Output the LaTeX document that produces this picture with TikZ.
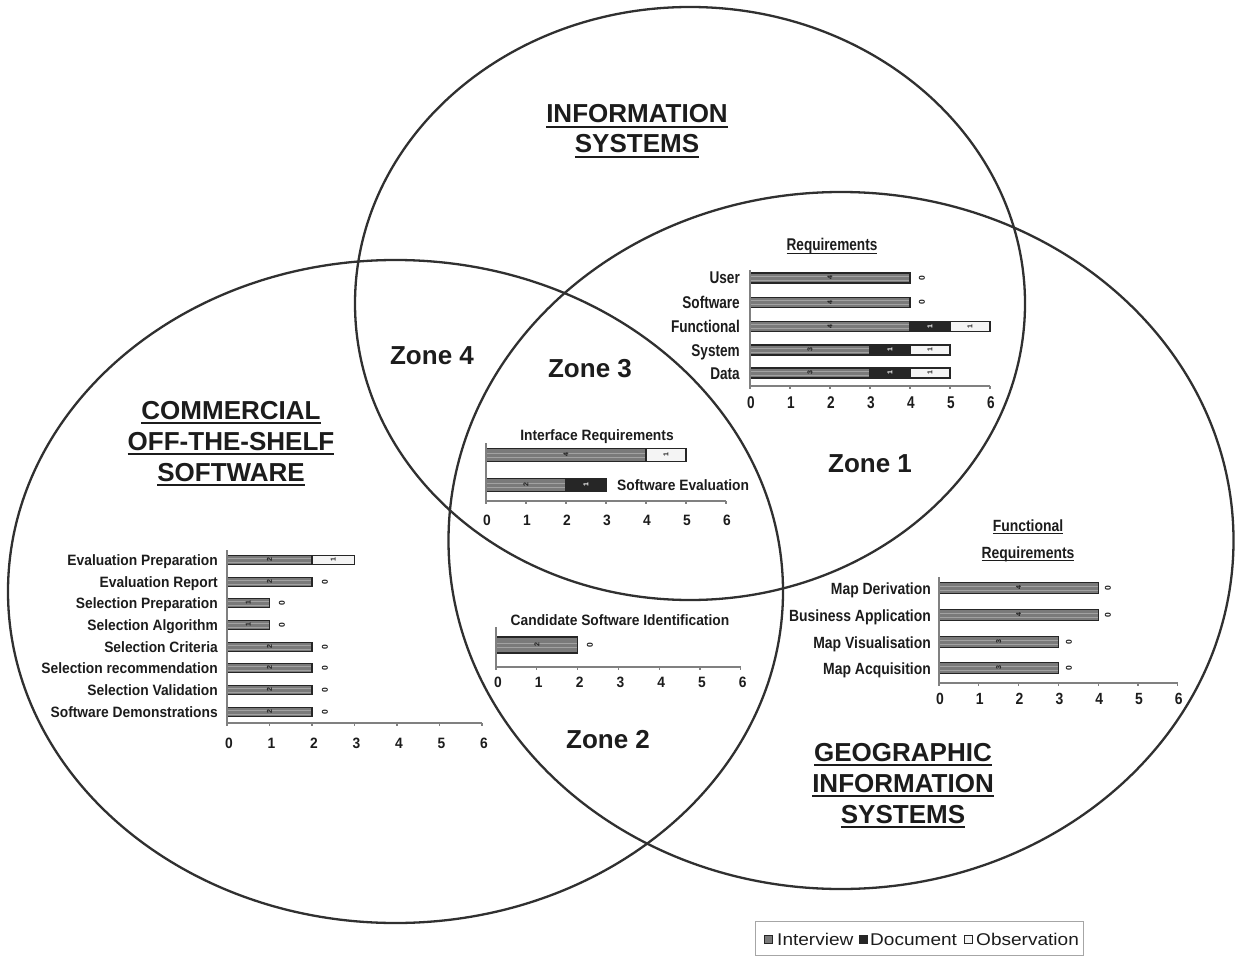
\documentclass[tikz,border=0pt]{standalone}
\usepackage{fontspec}
\setmainfont{Liberation Sans}
\newfontfamily\chartnarrow[FakeStretch=0.8]{Liberation Sans}
\newfontfamily\chartmid[FakeStretch=0.86]{Liberation Sans}
\newfontfamily\chartwide[FakeStretch=0.92]{Liberation Sans}
\newfontfamily\legendfont[FakeStretch=1.12]{Liberation Sans}

\definecolor{ink}{HTML}{1C1C1C}
\definecolor{ringcol}{HTML}{303030}
\definecolor{ivwfill}{HTML}{7A7A7A}
\definecolor{ivwline}{HTML}{A2A2A2}
\definecolor{docfill}{HTML}{262626}
\definecolor{obsfill}{HTML}{F4F4F4}
\definecolor{axiscol}{HTML}{808080}
\definecolor{barline}{HTML}{262626}

% thick underline used for the set titles
\newcommand\ulbar[1]{\setbox0=\hbox{#1}\rlap{\rule[-5pt]{\wd0}{2.4pt}}\box0}
\newcommand\ulthin[1]{\setbox0=\hbox{#1}\rlap{\rule[-3pt]{\wd0}{1.3pt}}\box0}

\newcount\vlabn
% one stacked bar: x0, unit, y centre, half height, interview, document, observation
\newcommand\databar[7]{%
  \pgfmathsetmacro\bxa{#1}%
  \pgfmathsetmacro\bxb{#1+(#5)*(#2)}%
  \pgfmathsetmacro\bxc{\bxb+(#6)*(#2)}%
  \pgfmathsetmacro\bxd{\bxc+(#7)*(#2)}%
  \pgfmathsetmacro\bya{#3-#4}%
  \pgfmathsetmacro\byb{#3+#4}%
  \ifnum#5>0
    \fill[ivwfill] (\bxa,\bya) rectangle (\bxb,\byb);
    \draw[ivwline, line width=1pt] (\bxa,#3-1.5) -- (\bxb,#3-1.5);
    \draw[ivwline, line width=0.6pt] (\bxa,#3+2) -- (\bxb,#3+2);
    \draw[barline, line width=1.3pt] (\bxa,\bya) rectangle (\bxb,\byb);
    \global\advance\vlabn by 1
    \node[vlab] (vl\the\vlabn) at ({(\bxa+\bxb)/2},#3) {#5};
  \fi
  \ifnum#6>0
    \filldraw[fill=docfill, draw=barline, line width=1.3pt] (\bxb,\bya) rectangle (\bxc,\byb);
    \global\advance\vlabn by 1
    \node[vlab, text=white] (vl\the\vlabn) at ({(\bxb+\bxc)/2},#3) {#6};
  \fi
  \ifnum#7>0
    \filldraw[fill=obsfill, draw=barline, line width=1.3pt] (\bxc,\bya) rectangle (\bxd,\byb);
    \global\advance\vlabn by 1
    \node[vlab] (vl\the\vlabn) at ({(\bxc+\bxd)/2},#3) {#7};
  \fi
}
% label for an empty observation count, just past the bar end
\newcommand\zerolab[2]{%
  \global\advance\vlabn by 1
  \node[zlab] (vl\the\vlabn) at (#1,#2) {0};
}

\begin{document}
\begin{tikzpicture}[x=1pt,y=-1pt,
  ring/.style={draw=ringcol, line width=2.3pt},
  settitle/.style={font=\bfseries\fontsize{26}{30}\selectfont, text=ink, anchor=base, inner sep=0pt},
  zonelab/.style={font=\bfseries\fontsize{26}{30}\selectfont, text=ink, anchor=base, inner sep=0pt},
  axisln/.style={draw=axiscol, line width=1.1pt},
  vlab/.style={font=\bfseries\fontsize{7}{7}\selectfont, rotate=90, inner sep=0pt, text=ink},
  zlab/.style={font=\bfseries\fontsize{8.5}{8.5}\selectfont, rotate=90, inner sep=0pt, text=ink},
  rqfont/.style={font=\chartnarrow\bfseries\fontsize{17}{19}\selectfont, text=ink, inner sep=0pt},
  frfont/.style={font=\chartmid\bfseries\fontsize{16.2}{18}\selectfont, text=ink, inner sep=0pt},
  cofont/.style={font=\chartwide\bfseries\fontsize{15}{17}\selectfont, text=ink, inner sep=0pt},
  wfont/.style={font=\chartwide\bfseries\fontsize{15}{17}\selectfont, text=ink, inner sep=0pt},
  legtext/.style={font=\legendfont\fontsize{17}{19}\selectfont, text=ink, anchor=base west, inner sep=0pt},
  legbox/.style={draw=gray!70, line width=1pt}
]
\useasboundingbox (0,0) rectangle (1236,957);
\fill[white] (0,0) rectangle (1236,957);

% ---- the three sets ----
\draw[ring] (690,303.5) ellipse [x radius=335, y radius=296.5];
\draw[ring] (395.5,591.5) ellipse [x radius=387.5, y radius=331.5];
\draw[ring] (841,540.5) ellipse [x radius=392.5, y radius=348.5];

% ---- set titles ----
\node[settitle] (is1) at (637,123) {\ulbar{INFORMATION}};
\node[settitle] (is2) at (637,153) {\ulbar{SYSTEMS}};
\node[settitle] (cots1) at (231,419) {\ulbar{COMMERCIAL}};
\node[settitle] (cots2) at (231,450) {\ulbar{OFF-THE-SHELF}};
\node[settitle] (cots3) at (231,481) {\ulbar{SOFTWARE}};
\node[settitle] (gis1) at (903,761) {\ulbar{GEOGRAPHIC}};
\node[settitle] (gis2) at (903,792) {\ulbar{INFORMATION}};
\node[settitle] (gis3) at (903,823) {\ulbar{SYSTEMS}};

% ---- zones ----
\node[zonelab] (z4) at (432,364) {Zone 4};
\node[zonelab] (z3) at (590,377) {Zone 3};
\node[zonelab] (z1) at (870,472) {Zone 1};
\node[zonelab] (z2) at (608,748) {Zone 2};

% ---- Zone 1: Requirements ----
\node[rqfont, anchor=base] (rq-title) at (832,251) {\ulthin{Requirements}};
\databar{750}{40}{278}{5}{4}{0}{0}
\databar{750}{40}{302.5}{5}{4}{0}{0}
\databar{750}{40}{326.5}{5}{4}{1}{1}
\databar{750}{40}{350}{5}{3}{1}{1}
\databar{750}{40}{373}{5}{3}{1}{1}
\zerolab{922}{278}
\zerolab{922}{302.5}
\node[rqfont, anchor=base east] (rq-user) at (740,284) {User};
\node[rqfont, anchor=base east] (rq-soft) at (740,308.5) {Software};
\node[rqfont, anchor=base east] (rq-func) at (740,332.5) {Functional};
\node[rqfont, anchor=base east] (rq-sys) at (740,356) {System};
\node[rqfont, anchor=base east] (rq-data) at (740,379) {Data};
\draw[axisln] (750,270) -- (750,386) -- (990,386);
\foreach \k in {0,...,6} {
  \draw[axisln] (750+40*\k,386) -- ++(0,3);
  \node[rqfont] (rq-t\k) at (751+40*\k,403) {\k};
}

% ---- Zone 3: Interface Requirements / Software Evaluation ----
\node[wfont, anchor=base] (ir-title) at (597,440) {Interface Requirements};
\databar{486}{40}{455}{6.5}{4}{0}{1}
\databar{486}{40}{485}{6.5}{2}{1}{0}
\node[wfont, anchor=base west] (ir-soft) at (617,490) {Software Evaluation};
\draw[axisln] (486,443) -- (486,501) -- (726,501);
\foreach \k in {0,...,6} {
  \draw[axisln] (486+40*\k,501) -- ++(0,3);
  \node[wfont] (ir-t\k) at (487+40*\k,520) {\k};
}

% ---- Zone 2: Candidate Software Identification ----
\node[wfont, anchor=base] (cs-title) at (620,625) {Candidate Software Identification};
\databar{496}{40.8}{645}{8}{2}{0}{0}
\zerolab{590}{645}
\draw[axisln] (496,627) -- (496,667) -- (741,667);
\foreach \k in {0,...,6} {
  \draw[axisln] (496+40.8*\k,667) -- ++(0,3);
  \node[wfont] (cs-t\k) at (498+40.8*\k,682) {\k};
}

% ---- COTS: selection and evaluation activities ----
\databar{227}{42.5}{560}{4.5}{2}{0}{1}
\databar{227}{42.5}{582}{4.5}{2}{0}{0}
\databar{227}{42.5}{603}{4.5}{1}{0}{0}
\databar{227}{42.5}{625}{4.5}{1}{0}{0}
\databar{227}{42.5}{647}{4.5}{2}{0}{0}
\databar{227}{42.5}{668}{4.5}{2}{0}{0}
\databar{227}{42.5}{690}{4.5}{2}{0}{0}
\databar{227}{42.5}{712}{4.5}{2}{0}{0}
\zerolab{325}{582}
\zerolab{282}{603}
\zerolab{282}{625}
\zerolab{325}{647}
\zerolab{325}{668}
\zerolab{325}{690}
\zerolab{325}{712}
\node[cofont, anchor=base east] (co-ep) at (218,565.5) {Evaluation Preparation};
\node[cofont, anchor=base east] (co-er) at (218,587.5) {Evaluation Report};
\node[cofont, anchor=base east] (co-sp) at (218,608.5) {Selection Preparation};
\node[cofont, anchor=base east] (co-sa) at (218,630.5) {Selection Algorithm};
\node[cofont, anchor=base east] (co-sc) at (218,652.5) {Selection Criteria};
\node[cofont, anchor=base east] (co-sr) at (218,673.5) {Selection recommendation};
\node[cofont, anchor=base east] (co-sv) at (218,695.5) {Selection Validation};
\node[cofont, anchor=base east] (co-sd) at (218,717.5) {Software Demonstrations};
\draw[axisln] (227,550) -- (227,723) -- (482,723);
\foreach \k in {0,...,6} {
  \draw[axisln] (227+42.5*\k,723) -- ++(0,3);
  \node[cofont] (co-t\k) at (229+42.5*\k,743) {\k};
}

% ---- GIS: Functional Requirements ----
\node[frfont, anchor=base] (fr-title1) at (1028,531) {\ulthin{Functional}};
\node[frfont, anchor=base] (fr-title2) at (1028,558) {\ulthin{Requirements}};
\databar{939}{39.8}{588}{5.5}{4}{0}{0}
\databar{939}{39.8}{615}{5.5}{4}{0}{0}
\databar{939}{39.8}{642}{5.5}{3}{0}{0}
\databar{939}{39.8}{668}{5.5}{3}{0}{0}
\zerolab{1108}{588}
\zerolab{1108}{615}
\zerolab{1069}{642}
\zerolab{1069}{668}
\node[frfont, anchor=base east] (fr-md) at (931,594) {Map Derivation};
\node[frfont, anchor=base east] (fr-ba) at (931,621) {Business Application};
\node[frfont, anchor=base east] (fr-mv) at (931,648) {Map Visualisation};
\node[frfont, anchor=base east] (fr-ma) at (931,674) {Map Acquisition};
\draw[axisln] (939,577) -- (939,683) -- (1178,683);
\foreach \k in {0,...,6} {
  \draw[axisln] (939+39.8*\k,683) -- ++(0,3);
  \node[frfont] (fr-t\k) at (940+39.8*\k,699) {\k};
}

% ---- legend ----
\draw[legbox] (755,921) rectangle (1083,955);
\fill[ivwfill] (764,935) rectangle (772,943);
\draw[barline, line width=1pt] (764,935) rectangle (772,943);
\node[legtext] (lg-i) at (777,945) {Interview};
\filldraw[fill=docfill, draw=barline, line width=1pt] (859,935) rectangle (867,943);
\node[legtext] (lg-d) at (870,945) {Document};
\filldraw[fill=obsfill, draw=barline, line width=1pt] (964,935) rectangle (972,943);
\node[legtext] (lg-o) at (976,945) {Observation};
\end{tikzpicture}
\end{document}
